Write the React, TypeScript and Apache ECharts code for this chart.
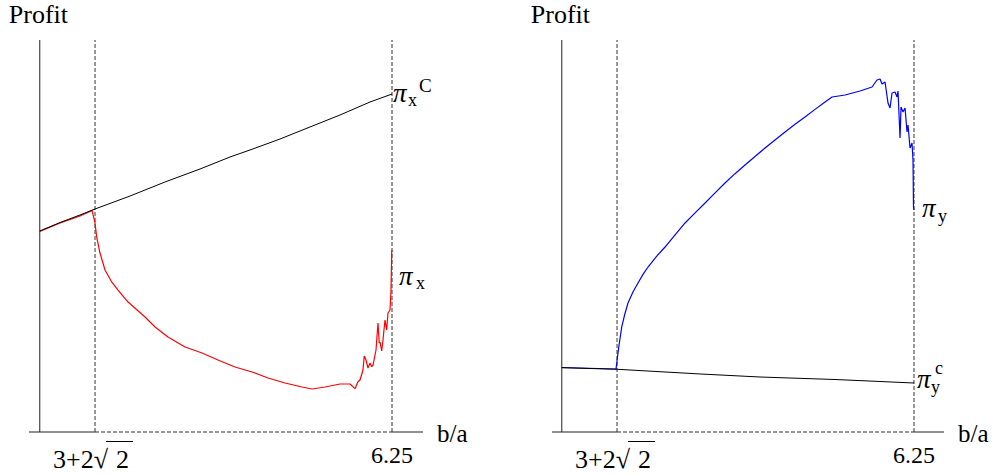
import React, { useEffect, useRef } from "react";
import * as echarts from "echarts";

// ---- key abscissae (b/a) ----
const X_START = 5.75; // b/a where the y axis sits
const X_CRIT = 3 + 2 * Math.SQRT2; // 3+2√2
const X_END = 6.25;

// axis extents of the two panels (the x axis runs a little past both ends)
const LEFT_X_RANGE = [5.7347, 6.294];
const RIGHT_X_RANGE = [5.7361, 6.2926];
const Y_RANGE = [0, 100];

// ---- left panel: π_x^C (collusive profit, black) ----
const leftCollX = [5.75, 5.7788, 5.8071, 5.8284, 5.8781, 5.9278, 5.9775, 6.02, 6.0484, 6.091, 6.1336, 6.1762, 6.2188, 6.25];
const leftCollY = [51.28, 53.44, 55.36, 56.89, 60.2, 63.78, 67.09, 70.15, 71.94, 74.74, 77.81, 80.87, 84.18, 86.22];

// ---- left panel: π_x (red) ----
const leftRedX = [
  5.75, 5.7788, 5.8071, 5.8242, 5.8284, 5.8308, 5.8355, 5.8426, 5.8521, 5.8611, 5.8753, 5.8994, 5.9136,
  5.932, 5.9562, 5.9803, 6.003, 6.0271, 6.0513, 6.074, 6.0981, 6.1222, 6.1364, 6.1549, 6.1762, 6.1904,
  6.1975, 6.2017, 6.2046, 6.2088, 6.2106, 6.2131, 6.2159, 6.2188, 6.2211, 6.2231, 6.2273, 6.2301, 6.2319,
  6.2330, 6.2354, 6.2372, 6.2386, 6.2401, 6.2424, 6.2443, 6.2472, 6.2486, 6.2496, 6.25,
];
const leftRedY = [
  51.15, 53.32, 55.1, 56.51, 53.32, 49.74, 45.66, 41.33, 38.27, 36.22, 33.16, 29.34, 26.79,
  24.23, 21.68, 20.15, 18.37, 16.58, 15.31, 13.78, 12.5, 11.48, 10.97, 11.48, 12.24, 12.24,
  11.05, 12.84, 13.27, 15.82, 19.39, 18.37, 16.33, 17.6, 16.67, 17.09, 20.92, 27.81, 22.7,
  22.96, 20.66, 23.47, 26.02, 28.57, 26.02, 30.36, 31.12, 36.22, 46.0, 46.43,
];

// ---- right panel: π̄_y (blue) ----
const rightBlueX = [
  5.75, 5.827, 5.8294, 5.8313, 5.8351, 5.8395, 5.844, 5.851, 5.8582, 5.8653, 5.8724, 5.8845, 5.8966,
  5.9108, 5.925, 5.9392, 5.9534, 5.9676, 5.9817, 5.9959, 6.0101, 6.0243, 6.0385, 6.0527, 6.0669,
  6.0811, 6.0953, 6.1095, 6.1237, 6.1337, 6.1521, 6.1734, 6.1904, 6.1975, 6.2018, 6.2046, 6.2089,
  6.2131, 6.216, 6.2188, 6.2231, 6.2259, 6.2273, 6.2302, 6.2316, 6.2344, 6.2373, 6.2401, 6.2415,
  6.2444, 6.2472, 6.2486, 6.2493, 6.25,
];
const rightBlueY = [
  16.45, 16.07, 19.64, 22.19, 26.79, 30.1, 32.91, 35.7, 38.01, 40.2, 42.09, 44.8, 47.19,
  50.3, 53.32, 55.9, 58.42, 61.0, 63.52, 65.9, 68.11, 70.3, 72.45, 74.5, 76.53,
  78.5, 80.36, 82.3, 84.18, 85.46, 85.97, 86.99, 88.01, 89.8, 90.05, 88.78, 89.29,
  83.93, 82.65, 86.48, 86.73, 85.46, 86.99, 75.0, 82.91, 81.63, 82.65, 76.53, 78.32,
  72.45, 73.72, 69.39, 57.4, 56.63,
];

// ---- right panel: π_y^c (black) ----
const rightCollX = [5.75, 5.8284, 5.9463, 6.0314, 6.1379, 6.25];
const rightCollY = [16.4, 16.0, 14.8, 14.03, 13.39, 12.5];

// ---- tick / axis labels ----
const TICK_CRIT = ["3+2", "2"]; // 3+2√2
const TICK_END = "6.25";
const Y_TITLE = "Profit";
const X_TITLE = "b/a";

const FONT = "'Liberation Serif', 'Times New Roman', serif";
const DASH_COLOR = "#333";

const zip = (xs: number[], ys: number[]) => xs.map((x, i) => [x, ys[i]]);

function lineSeries(idx: number, data: number[][], color: string, opts: any = {}) {
  return {
    type: "line",
    xAxisIndex: idx,
    yAxisIndex: idx,
    data,
    showSymbol: false,
    symbol: "none",
    silent: true,
    clip: false,
    lineStyle: { color, width: opts.width ?? 1, type: opts.dash ?? "solid" },
    z: opts.z ?? 2,
  };
}

function axisSeries(idx: number, range: number[]) {
  return [
    lineSeries(idx, [[X_START, Y_RANGE[0]], [X_START, Y_RANGE[1]]], "#222", { z: 1 }),
    lineSeries(idx, [[range[0], 0], [X_CRIT, 0]], "#222", { z: 1 }),
    lineSeries(idx, [[X_CRIT, 0], [X_END, 0]], DASH_COLOR, { z: 1, dash: [4, 2] }),
    lineSeries(idx, [[X_END, 0], [range[1], 0]], "#222", { z: 1 }),
    lineSeries(idx, [[X_CRIT, Y_RANGE[0]], [X_CRIT, Y_RANGE[1]]], DASH_COLOR, { z: 1, dash: [4, 2] }),
    lineSeries(idx, [[X_END, Y_RANGE[0]], [X_END, Y_RANGE[1]]], DASH_COLOR, { z: 1, dash: [4, 2] }),
  ];
}

function txt(text: string, x: number, baseline: number, size: number, align = "left", italic = false) {
  return {
    type: "text",
    silent: true,
    z: 100,
    style: {
      text,
      x,
      y: baseline - 0.34 * size,
      font: `${italic ? "italic " : ""}${size}px ${FONT}`,
      fill: "#000",
      align,
      verticalAlign: "middle",
    },
  };
}

export default function App() {
  const ref = useRef<HTMLDivElement>(null);

  useEffect(() => {
    if (!ref.current) return;
    const chart = echarts.init(ref.current, undefined, { renderer: "svg" });
    const grids = [
      { left: 29, top: 40, width: 394, height: 392 },
      { left: 552, top: 40, width: 392, height: 392 },
    ];
    const ranges = [LEFT_X_RANGE, RIGHT_X_RANGE];
    chart.setOption({
      animation: false,
      backgroundColor: "#fff",
      grid: grids,
      xAxis: ranges.map((r, i) => ({ type: "value", gridIndex: i, min: r[0], max: r[1], show: false })),
      yAxis: ranges.map((_, i) => ({ type: "value", gridIndex: i, min: Y_RANGE[0], max: Y_RANGE[1], show: false })),
      series: [
        ...axisSeries(0, LEFT_X_RANGE),
        ...axisSeries(1, RIGHT_X_RANGE),
        lineSeries(0, zip(leftRedX, leftRedY), "#ff0000", { z: 3, width: 1.2 }),
        lineSeries(0, zip(leftCollX, leftCollY), "#000", { z: 4 }),
        lineSeries(1, zip(rightBlueX, rightBlueY), "#0000ff", { z: 3, width: 1.2 }),
        lineSeries(1, zip(rightCollX, rightCollY), "#000", { z: 4 }),
      ],
    });

    const px = (i: number, p: number[]) => chart.convertToPixel({ xAxisIndex: i, yAxisIndex: i }, p) as number[];
    const graphics: any[] = [];
    for (let i = 0; i < 2; i++) {
      const r = ranges[i];
      const o = px(i, [X_START, 0]);
      const c = px(i, [X_CRIT, 0]);
      const e = px(i, [X_END, 0]);
      const end = px(i, [r[1], 0]);
      graphics.push(txt(Y_TITLE, o[0] - 31, 23, 26));
      graphics.push(txt(X_TITLE, end[0] + 14, o[1] + 10, 25));
      graphics.push(txt(TICK_END, e[0], o[1] + 31, 24, "center"));
      // 3+2√2 with the radical's overbar
      graphics.push(txt(TICK_CRIT[0] + "\u221A", c[0] + 13, o[1] + 36, 26, "right"));
      graphics.push(txt(TICK_CRIT[1], c[0] + 21, o[1] + 36, 26, "left"));
      graphics.push({
        type: "line",
        silent: true,
        z: 100,
        shape: { x1: c[0] + 11, y1: o[1] + 9.5, x2: c[0] + 38, y2: o[1] + 9.5 },
        style: { stroke: "#000", lineWidth: 1 },
      });
    }
    // series labels
    const lc = px(0, [X_END, leftCollY[leftCollY.length - 1]]);
    graphics.push(txt("\u03C0", lc[0] + 1, lc[1] + 8, 27, "left", true));
    graphics.push(txt("x", lc[0] + 16, lc[1] + 12, 18));
    graphics.push(txt("C", lc[0] + 27, lc[1] - 2, 19));

    const lr = px(0, [X_END, leftRedY[leftRedY.length - 1]]);
    graphics.push(txt("\u03C0", lr[0] + 7, lr[1] + 35, 27, "left", true));
    graphics.push(txt("x", lr[0] + 24, lr[1] + 39, 18));

    const rb = px(1, [X_END, rightBlueY[rightBlueY.length - 1]]);
    graphics.push(txt("\u03C0", rb[0] + 8, rb[1] + 7, 27, "left", true));
    graphics.push(txt("y", rb[0] + 24, rb[1] + 12, 18));

    const rc = px(1, [X_END, rightCollY[rightCollY.length - 1]]);
    graphics.push(txt("\u03C0", rc[0] + 3, rc[1] + 5, 27, "left", true));
    graphics.push(txt("y", rc[0] + 17, rc[1] + 10, 18));
    graphics.push(txt("c", rc[0] + 21, rc[1] - 9, 18));

    chart.setOption({ graphic: graphics });

    return () => chart.dispose();
  }, []);

  return (
    <div
      ref={ref}
      style={{ position: "fixed", left: 0, top: 0, width: 994, height: 475, background: "#fff" }}
    />
  );
}
